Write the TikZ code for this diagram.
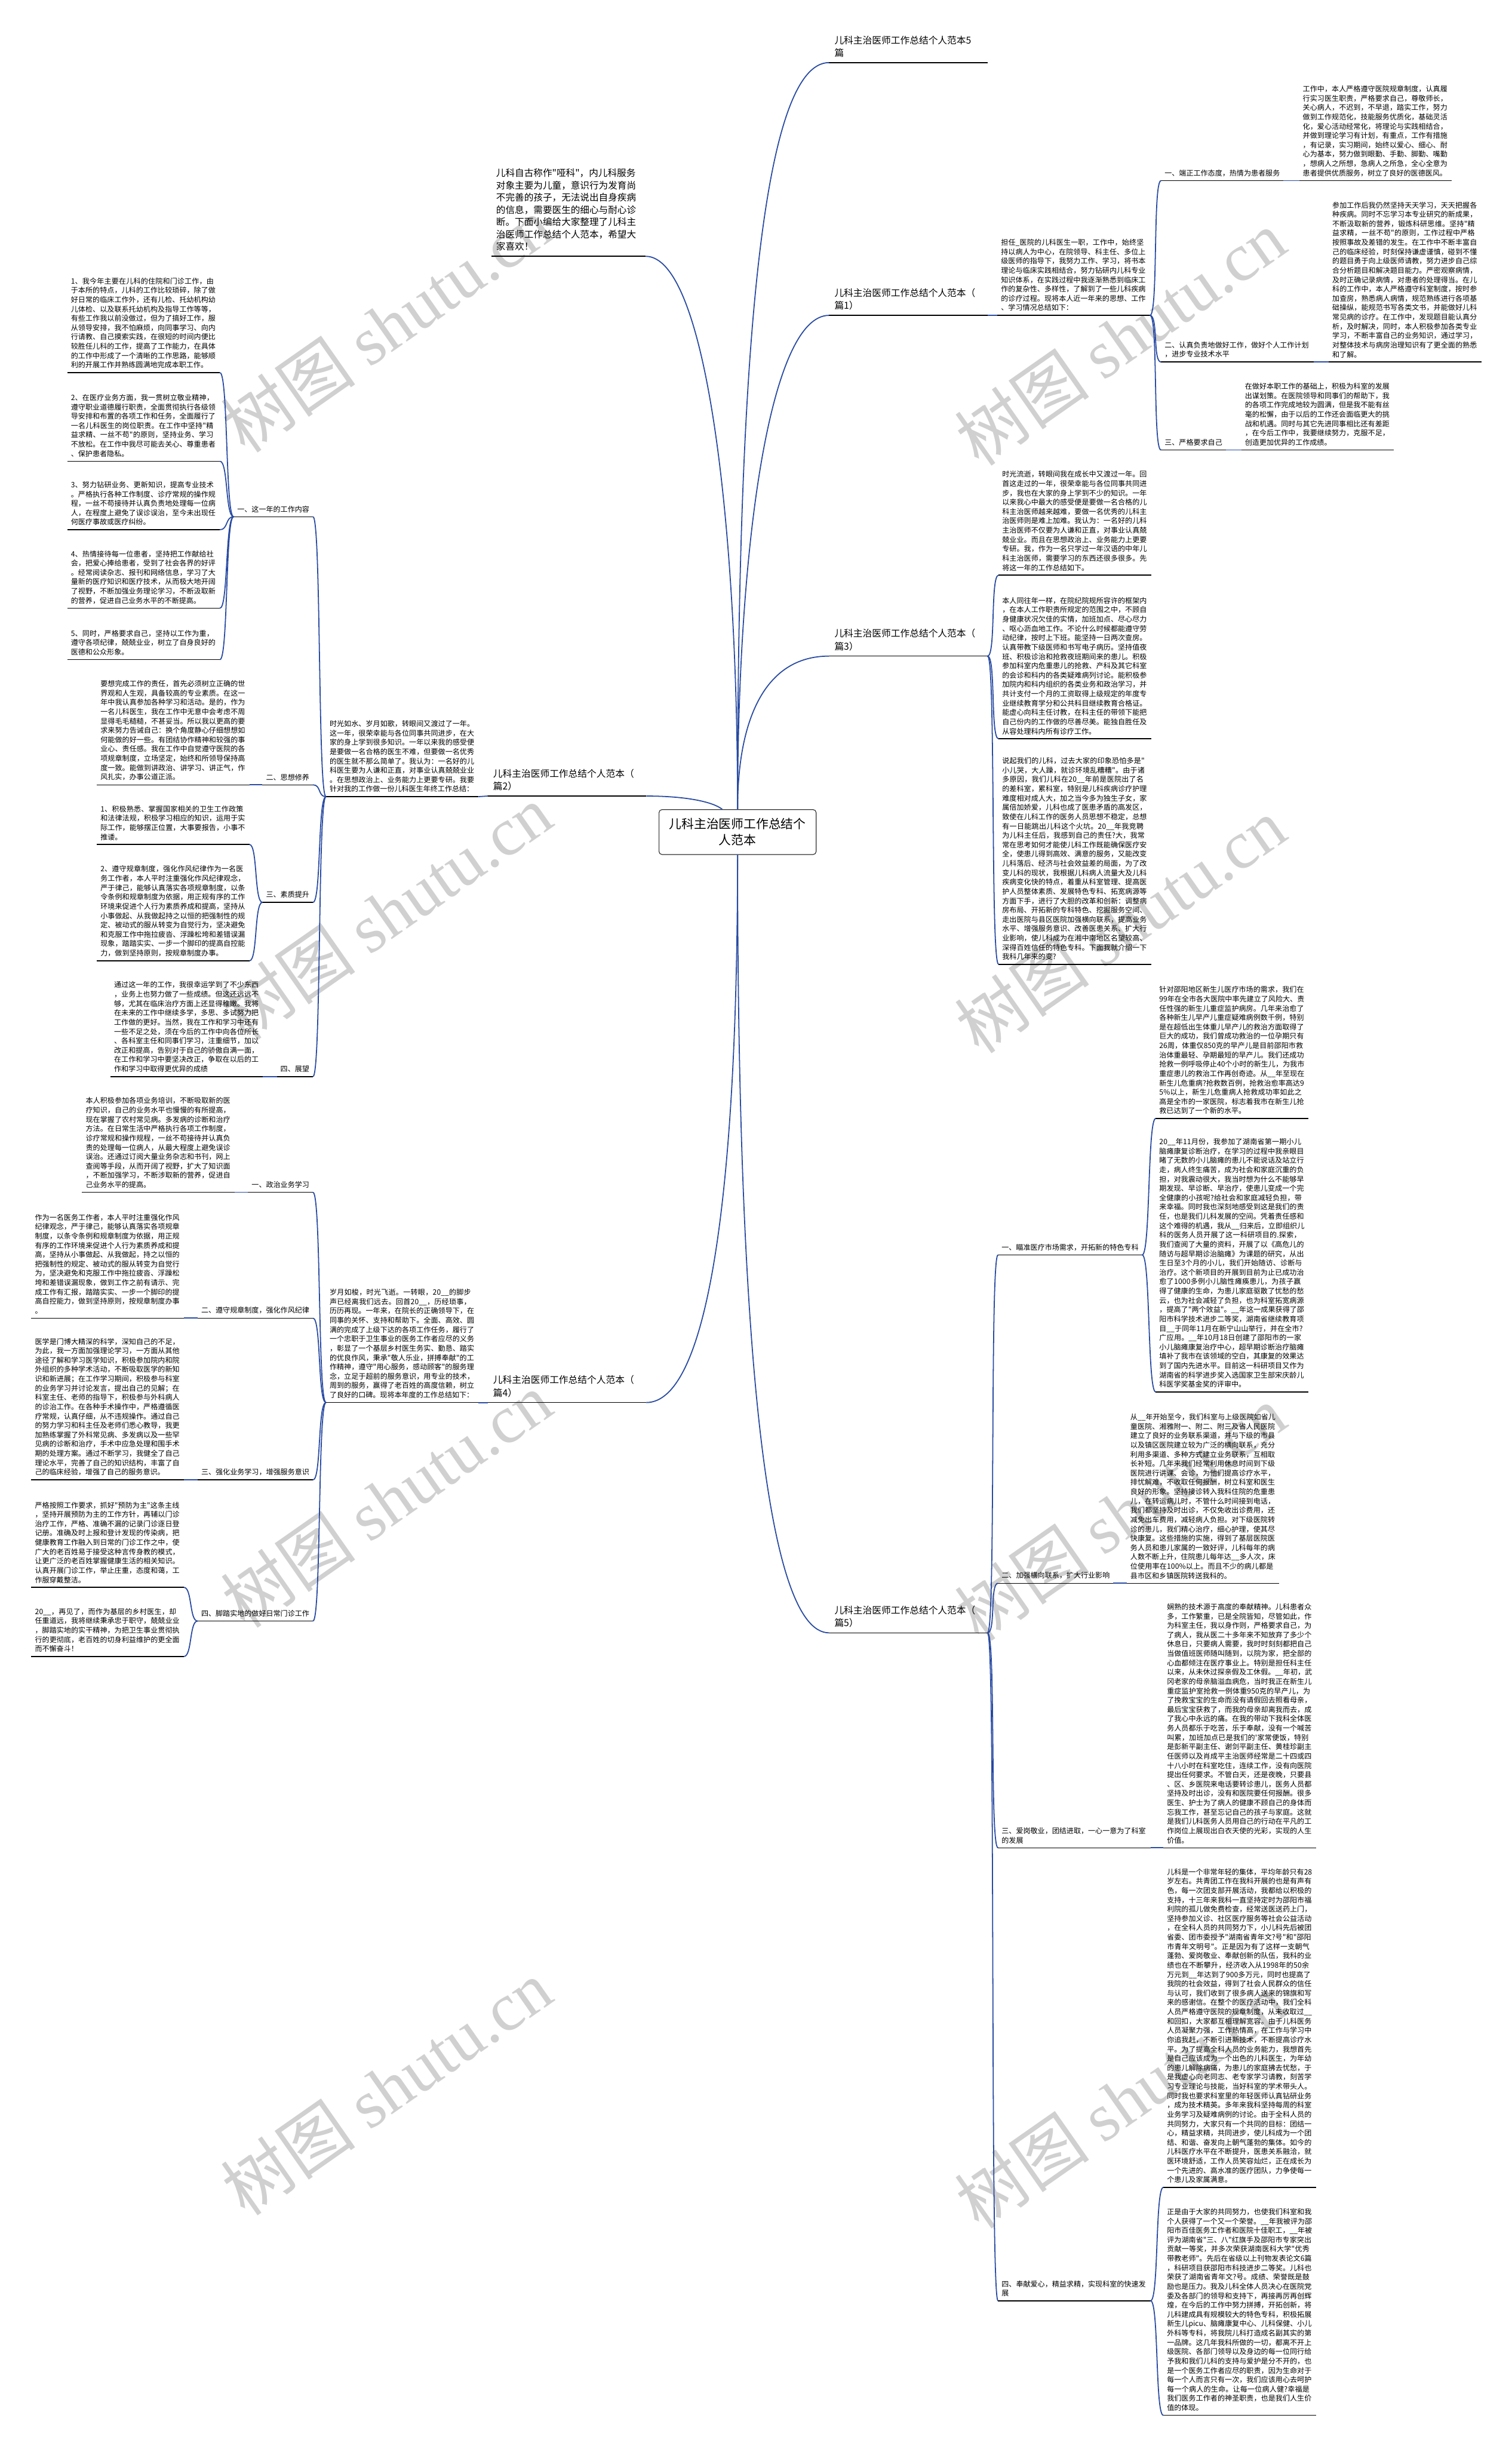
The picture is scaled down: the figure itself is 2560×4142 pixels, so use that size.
\documentclass[tikz,border=0pt]{standalone}
\usepackage{fontspec}
\setmainfont{Noto Sans CJK SC}
\newfontfamily\wmserif{Liberation Serif}
\font\fpara="Noto Sans CJK SC" at 12.2pt
\font\ftitle="Noto Sans CJK SC" at 15.9pt
\font\fintro="Noto Sans CJK SC" at 15.8pt
\font\froot="Noto Sans CJK SC" at 21pt
\XeTeXinterchartokenstate=1
\XeTeXinterchartoks 0 0 = {\hskip0pt plus 1pt\relax}
\XeTeXinterchartoks 0 1 = {\hskip0pt plus 1pt\relax}
\XeTeXinterchartoks 0 2 = {\hskip0pt plus 1pt\relax}
\XeTeXinterchartoks 0 3 = {\hskip0pt plus 1pt\relax}
\XeTeXinterchartoks 1 0 = {\hskip0pt plus 1pt\relax}
\XeTeXinterchartoks 1 1 = {\hskip0pt plus 1pt\relax}
\XeTeXinterchartoks 1 2 = {\hskip0pt plus 1pt\relax}
\XeTeXinterchartoks 1 3 = {\hskip0pt plus 1pt\relax}
\XeTeXinterchartoks 2 0 = {\hskip0pt plus 1pt\relax}
\XeTeXinterchartoks 2 1 = {\hskip0pt plus 1pt\relax}
\XeTeXinterchartoks 2 2 = {\hskip0pt plus 1pt\relax}
\XeTeXinterchartoks 2 3 = {\hskip0pt plus 1pt\relax}
\XeTeXinterchartoks 3 0 = {\hskip0pt plus 1pt\relax}
\XeTeXinterchartoks 3 1 = {\hskip0pt plus 1pt\relax}
\XeTeXinterchartoks 3 2 = {\hskip0pt plus 1pt\relax}
\XeTeXinterchartoks 3 3 = {\hskip0pt plus 1pt\relax}
\definecolor{linkblue}{RGB}{40,74,162}
\definecolor{wmgray}{RGB}{208,208,208}
\tikzstyle{rootbox} = [rectangle, rounded corners=5pt, draw=black!80, line width=1.2pt, minimum width=266pt, minimum height=76pt, align=center, font={\froot\baselineskip=27pt\relax}]
\tikzstyle{branch} = [anchor=south west, text width=250pt, align=left, inner xsep=9pt, inner ysep=9pt, font={\ftitle\baselineskip=21.5pt\relax}]
\tikzstyle{introtext} = [anchor=south west, text width=245pt, align=left, inner xsep=8pt, inner ysep=9pt, font={\fintro\baselineskip=20.7pt\relax}]
\tikzstyle{para} = [anchor=south west, text width=246pt, align=left, inner xsep=6pt, inner ysep=7pt, font={\fpara\baselineskip=15.8pt\relax}]
\tikzstyle{heading} = [anchor=south west, align=left, inner xsep=6pt, inner ysep=7pt, font={\fpara\baselineskip=15.8pt\relax}]
\tikzstyle{headingl} = [heading, anchor=south east]
\tikzstyle{uline} = [line width=1.5pt, black]
\tikzstyle{link} = [line width=1.8pt, linkblue]
\tikzstyle{wm} = [text=wmgray, rotate=35, inner sep=0pt, font=\fontsize{115}{115}\selectfont]

\begin{document}
\begin{tikzpicture}[x=1pt,y=-1pt]
\fill[white] (0,0) rectangle (2560,4142);
\useasboundingbox (0,0) rectangle (2560,4142);

% watermarks
\foreach \y in {0,995,1990,2985} {
  \node[wm] at (654,550+\y) {树图 {\wmserif shutu.cn}};
  \node[wm] at (1897,572+\y) {树图 {\wmserif shutu.cn}};
}

% root and branches
\node[rootbox] (root) at (1249,1409) {儿科主治医师工作总结个\\人范本};
\node[branch] (pall) at (1404,106) {儿科主治医师工作总结个人范本5\\篇};
\node[branch] (pian1) at (1404,534) {儿科主治医师工作总结个人范本（\\篇1）};
\node[branch] (pian3) at (1404,1111) {儿科主治医师工作总结个人范本（\\篇3）};
\node[branch] (pian5) at (1404,2765) {儿科主治医师工作总结个人范本（\\篇5）};
\node[branch] (pian2) at (826,1348) {儿科主治医师工作总结个人范本（\\篇2）};
\node[branch] (pian4) at (826,2375) {儿科主治医师工作总结个人范本（\\篇4）};
\node[introtext] (intro) at (832,434) {儿科自古称作"哑科"，内儿科服务\\对象主要为儿童，意识行为发育尚\\不完善的孩子，无法说出自身疾病\\的信息，需要医生的细心与耐心诊\\断。下面小编给大家整理了儿科主\\治医师工作总结个人范本，希望大\\家喜欢！};

% pian 1
\node[para] (p1) at (1689,534) {担任\_医院的儿科医生一职，工作中，始终坚持以病人为中心，在院领导、科主任、多位上级医师的指导下，我努力工作、学习，将书本理论与临床实践相结合，努力钻研内儿科专业知识体系，在实践过程中我逐渐熟悉到临床工作的复杂性、多样性，了解到了一些儿科疾病的诊疗过程。现将本人近一年来的思想、工作、学习情况总结如下：};
\node[heading] (p1l1) at (1966,306) {一、端正工作态度，热情为患者服务};
\node[para] (p1t1) at (2200,306) {工作中，本人严格遵守医院规章制度，认真履行实习医生职责，严格要求自己，尊敬师长，关心病人，不迟到，不早退，踏实工作，努力做到工作规范化，技能服务优质化，基础灵活化，爱心活动经常化，将理论与实践相结合，并做到理论学习有计划，有重点，工作有措施，有记录，实习期间，始终以爱心、细心、耐心为基本，努力做到眼勤、手勤、脚勤、嘴勤，想病人之所想，急病人之所急，全心全意为患者提供优质服务，树立了良好的医德医风。};
\node[heading, text width=246pt] (p1l2) at (1966,613) {二、认真负责地做好工作，做好个人工作计划\\，进步专业技术水平};
\node[para] (p1t2) at (2250,613) {参加工作后我仍然坚持天天学习，天天把握各种疾病。同时不忘学习本专业研究的新成果，不断汲取新的营养，锻炼科研思维。坚持"精益求精，一丝不苟"的原则，工作过程中严格按照事故及差错的发生。在工作中不断丰富自己的临床经验，时刻保持谦虚谨慎，碰到不懂的题目勇于向上级医师请教，努力进步自己综合分析题目和解决题目能力。严密观察病情，及时正确记录病情，对患者的处理得当。在儿科的工作中，本人严格遵守科室制度，按时参加查房，熟悉病人病情，规范熟练进行各项基础操纵，能规范书写各类文书，并能做好儿科常见病的诊疗。在工作中，发现题目能认真分析，及时解决，同时，本人积极参加各类专业学习，不断丰富自己的业务知识，通过学习，对整体技术与病房治理知识有了更全面的熟悉和了解。};
\node[heading] (p1l3) at (1966,762) {三、严格要求自己};
\node[para] (p1t3) at (2102,762) {在做好本职工作的基础上，积极为科室的发展出谋划策。在医院领导和同事们的帮助下，我的各项工作完成地较为圆满，但是我不能有丝毫的松懈，由于以后的工作还会面临更大的挑战和机遇。同时与其它先进同事相比还有差距，在今后工作中，我要继续努力，克服不足，创造更加优异的工作成绩。};

% pian 3
\node[para] (p3a) at (1691,974) {时光流逝，转眼间我在成长中又渡过一年。回首这走过的一年，很荣幸能与各位同事共同进步，我也在大家的身上学到不少的知识。一年以来我心中最大的感受便是要做一名合格的儿科主治医师越来越难，要做一名优秀的儿科主治医师则是难上加难。我认为：一名好的儿科主治医师不仅要为人谦和正直，对事业认真兢兢业业。而且在思想政治上、业务能力上更要专研。我，作为一名只学过一年汉语的中年儿科主治医师，需要学习的东西还很多很多。先将这一年的工作总结如下。};
\node[para] (p3b) at (1691,1251) {本人同往年一样，在院纪院规所容许的框架内，在本人工作职责所规定的范围之中，不顾自身健康状况欠佳的实情，加班加点、尽心尽力、呕心沥血地工作。不论什么时候都能遵守劳动纪律，按时上下班。能坚持一日两次查房。认真带教下级医师和书写电子病历。坚持值夜班、积极诊治和抢救夜班期间来的患儿。积极参加科室内危重患儿的抢救、产科及其它科室的会诊和科内的各类疑难病列讨论。能积极参加院内和科内组织的各类业务和政治学习，并共计支付一个月的工资取得上级规定的年度专业继续教育学分和公共科目继续教育合格证。能虚心向科主任讨教，在科主任的带领下能把自己份内的工作做的尽善尽美。能独自胜任及从容处理科内所有诊疗工作。};
\node[para] (p3c) at (1691,1633) {说起我们的儿科，过去大家的印象恐怕多是"小儿哭，大人躁，就诊环境乱糟糟"。由于诸多原因，我们儿科在20\_\_年前是医院出了名的差科室，累科室，特别是儿科疾病诊疗护理难度相对成人大，加之当今多为独生子女，家属倍加娇爱，儿科也成了医患矛盾的高发区，致使在儿科工作的医务人员思想不稳定，总想有一日能跳出儿科这个火坑。20\_\_年我竞聘为儿科主任后，我感到自己的责任?大，我常常在思考如何才能使儿科工作既能确保医疗安全，使患儿得到高效、满意的服务，又能改变儿科落后、经济与社会效益差的局面，为了改变儿科的现状，我根据儿科病人流量大及儿科疾病变化快的特点，着重从科室管理、提高医护人员整体素质、发展特色专科、拓宽病源等方面下手，进行了大胆的改革和创新：调整病房布局、开拓新的专科特色、挖掘服务空间、走出医院与县区医院加强横向联系，提高业务水平、增强服务意识、改善医患关系、扩大行业影响，使儿科成为在湘中南地区名望较高、深得百姓信任的特色专科。下面我就介绍一下我科几年来的变?};

% pian 2
\node[para] (p2) at (552,1349) {时光如水、岁月如歌，转眼间又渡过了一年。这一年，很荣幸能与各位同事共同进步，在大家的身上学到很多知识。一年以来我的感受便是要做一名合格的医生不难，但要做一名优秀的医生就不那么简单了。我认为：一名好的儿科医生要为人谦和正直，对事业认真兢兢业业。在思想政治上、业务能力上更要专研。我要针对我的工作做一份儿科医生年终工作总结：};
\node[headingl] (p2l1) at (530,875) {一、这一年的工作内容};
\node[headingl] (p2l2) at (530,1329) {二、思想修养};
\node[headingl] (p2l3) at (530,1528) {三、素质提升};
\node[headingl] (p2l4) at (530,1823) {四、展望};
\node[para] (p2a1) at (114,631) {1、我今年主要在儿科的住院和门诊工作，由于本所的特点，儿科的工作比较琐碎，除了做好日常的临床工作外，还有儿检、托幼机构幼儿体检、以及联系托幼机构及指导工作等等，有些工作我以前没做过，但为了搞好工作，服从领导安排，我不怕麻烦，向同事学习、向内行请教、自己摸索实践，在很短的时间内便比较胜任儿科的工作，提高了工作能力，在具体的工作中形成了一个清晰的工作思路，能够顺利的开展工作并熟练圆满地完成本职工作。};
\node[para] (p2a2) at (114,781) {2、在医疗业务方面，我一贯树立敬业精神，遵守职业道德履行职责，全面贯彻执行各级领导安排和布置的各项工作和任务，全面履行了一名儿科医生的岗位职责。在工作中坚持"精益求精、一丝不苟"的原则，坚持业务、学习不放松。在工作中我尽可能去关心、尊重患者、保护患者隐私。};
\node[para] (p2a3) at (114,897) {3、努力钻研业务、更新知识，提高专业技术。严格执行各种工作制度、诊疗常规的操作规程，一丝不苟接待并认真负责地处理每一位病人，在程度上避免了误诊误治，至今未出现任何医疗事故或医疗纠纷。};
\node[para] (p2a4) at (114,1030) {4、热情接待每一位患者，坚持把工作献给社会，把爱心捧给患者，受到了社会各界的好评。经常阅读杂志、报刊和网络信息，学习了大量新的医疗知识和医疗技术，从而极大地开阔了视野，不断加强业务理论学习，不断汲取新的营养，促进自己业务水平的不断提高。};
\node[para] (p2a5) at (114,1117) {5、同时，严格要求自己，坚持以工作为重，遵守各项纪律，兢兢业业，树立了自身良好的医德和公众形象。};
\node[para] (p2b) at (164,1329) {要想完成工作的责任，首先必须树立正确的世界观和人生观，具备较高的专业素质。在这一年中我认真参加各种学习和活动。是的，作为一名儿科医生，我在工作中无意中会考虑不周显得毛毛糙糙，不甚妥当。所以我以更高的要求来努力告诫自己：换个角度静心仔细想想如何能做的好一些。有团结协作精神和较强的事业心、责任感。我在工作中自觉遵守医院的各项规章制度，立场坚定，始终和所领导保持高度一致。能做到讲政治、讲学习、讲正气，作风扎实，办事公道正派。};
\node[para] (p2c1) at (164,1430) {1、积极熟悉、掌握国家相关的卫生工作政策和法律法规，积极学习相应的知识，运用于实际工作，能够摆正位置，大事要报告，小事不推诿。};
\node[para] (p2c2) at (164,1627) {2、遵守规章制度，强化作风纪律作为一名医务工作者，本人平时注重强化作风纪律观念，严于律己，能够认真落实各项规章制度，以条令条例和规章制度为依据，用正规有序的工作环境来促进个人行为素质养成和提高，坚持从小事做起、从我做起持之以恒的把强制性的规定、被动式的服从转变为自觉行为，坚决避免和克服工作中拖拉疲沓、浮躁松垮和差错误漏现象，踏踏实实、一步一个脚印的提高自控能力，做到坚持原则，按规章制度办事。};
\node[para] (p2d) at (187,1823) {通过这一年的工作，我很幸运学到了不少东西，业务上也努力做了一些成绩。但这还远远不够，尤其在临床治疗方面上还显得稚嫩。我将在未来的工作中继续多学，多思、多试努力把工作做的更好。当然，我在工作和学习中还有一些不足之处，须在今后的工作中向各位所长、各科室主任和同事们学习，注重细节，加以改正和提高，告别对于自己的骄傲自满一面，在工作和学习中要坚决改正，争取在以后的工作和学习中取得更优异的成绩};

% pian 4
\node[para] (p4) at (552,2375) {岁月如梭，时光飞逝。一转眼，20\_\_的脚步声已经离我们远去。回首20\_\_，历经琐事，历历再现。一年来，在院长的正确领导下，在同事的关怀、支持和帮助下。全面、高效、圆满的完成了上级下达的各项工作任务，履行了一个忠职于卫生事业的医务工作者应尽的义务，彰显了一个基层乡村医生务实、勤恳、踏实的优良作风，秉承"敬人乐业，拼搏奉献"的工作精神，遵守"用心服务，感动顾客"的服务理念，立足于超前的服务意识，用专业的技术，周到的服务，赢得了老百姓的高度信赖，树立了良好的口碑。现将本年度的工作总结如下：};
\node[headingl] (p4l1) at (530,2019) {一、政治业务学习};
\node[headingl] (p4l2) at (530,2232) {二、遵守规章制度，强化作风纪律};
\node[headingl] (p4l3) at (530,2506) {三、强化业务学习，增强服务意识};
\node[headingl] (p4l4) at (530,2745) {四、脚踏实地的做好日常门诊工作};
\node[para] (p4a) at (139,2019) {本人积极参加各项业务培训，不断吸取新的医疗知识，自己的业务水平也慢慢的有所提高，现在掌握了农村常见病。多发病的诊断和治疗方法。在日常生活中严格执行各项工作制度，诊疗常规和操作规程，一丝不苟接待并认真负责的处理每一位病人，从最大程度上避免误诊误治。还通过订阅大量业务杂志和书刊，网上查阅等手段，从而开阔了视野，扩大了知识面，不断加强学习，不断涉取新的营养，促进自己业务水平的提高。};
\node[para] (p4b) at (53,2232) {作为一名医务工作者，本人平时注重强化作风纪律观念，严于律己，能够认真落实各项规章制度，以条令条例和规章制度为依据，用正规有序的工作环境来促进个人行为素质养成和提高，坚持从小事做起、从我做起，持之以恒的把强制性的规定、被动式的服从转变为自觉行为，坚决避免和克服工作中拖拉疲沓、浮躁松垮和差错误漏现象，做到工作之前有请示、完成工作有汇报，踏踏实实、一步一个脚印的提高自控能力，做到坚持原则，按规章制度办事。};
\node[para] (p4c) at (53,2506) {医学是门博大精深的科学，深知自己的不足，为此，我一方面加强理论学习，一方面从其他途径了解和学习医学知识，积极参加院内和院外组织的多种学术活动，不断吸取医学的新知识和新进展；在工作学习期间，积极参与科室的业务学习并讨论发言，提出自己的见解；在科室主任、老师的指导下，积极参与外科病人的诊治工作。在各种手术操作中，严格遵循医疗常规，认真仔细，从不违规操作。通过自己的努力学习和科主任及老师们悉心教导，我更加熟练掌握了外科常见病、多发病以及一些罕见病的诊断和治疗，手术中应急处理和围手术期的处理方案。通过不断学习，我健全了自己理论水平，完善了自己的知识结构，丰富了自己的临床经验，增强了自己的服务意识。};
\node[para] (p4d1) at (53,2688) {严格按照工作要求，抓好"预防为主"这条主线，坚持开展预防为主的工作方针，再辅以门诊治疗工作，严格、准确不漏的记录门诊逐日登记册。准确及时上报和登计发现的传染病，把健康教育工作融入到日常的门诊工作之中，使广大的老百姓易于接受这种言传身教的模式，让更广泛的老百姓掌握健康生活的相关知识。认真开展门诊工作，举止庄重，态度和蔼，工作服穿戴整洁。};
\node[para] (p4d2) at (53,2805) {20\_\_，再见了，而作为基层的乡村医生，却任重道远，我将继续秉承忠于职守，兢兢业业，脚踏实地的实干精神，为把卫生事业贯彻执行的更彻底，老百姓的切身利益维护的更全面而不懈奋斗！};

% pian 5
\node[heading] (p5l1) at (1690,2125) {一、瞄准医疗市场需求，开拓新的特色专科};
\node[heading] (p5l2) at (1690,2681) {二、加强横向联系，扩大行业影响};
\node[heading, text width=246pt] (p5l3) at (1690,3129) {三、爱岗敬业，团结进取，一心一意为了科室\\的发展};
\node[heading, text width=246pt] (p5l4) at (1690,3896) {四、奉献爱心，精益求精，实现科室的快速发\\展};
\node[para] (p5a1) at (1957,1894) {针对邵阳地区新生儿医疗市场的需求，我们在99年在全市各大医院中率先建立了风险大、责任性强的新生儿重症监护病房。几年来治愈了各种新生儿早产儿重症疑难病例数千例，特别是在超低出生体重儿早产儿的救治方面取得了巨大的成功，我们曾成功救治的一位孕期只有26周，体重仅850克的早产儿是目前邵阳市救治体重最轻、孕期最短的早产儿。我们还成功抢救一例呼吸停止40个小时的新生儿，为我市重症患儿的救治工作再创奇迹。从\_\_年至现在新生儿危重病?抢救数百例，抢救治愈率高达95\%以上，新生儿危重病人抢救成功率如此之高是全市的一家医院，标志着我市在新生儿抢救已达到了一个新的水平。};
\node[para] (p5a2) at (1957,2357) {20\_\_年11月份，我参加了湖南省第一期小儿脑瘫康复诊断治疗，在学习的过程中我亲眼目睹了无数的小儿脑瘫的患儿不能说话及站立行走，病人终生痛苦，成为社会和家庭沉重的负担，对我震动很大，我当时想为什么不能够早期发现、早诊断、早治疗，使患儿变成一个完全健康的小孩呢?给社会和家庭减轻负担，带来幸福。同时我也深刻地感受到这是我们的责任，也是我们儿科发展的空间。凭着责任感和这个难得的机遇，我从\_\_归来后，立即组织儿科的医务人员开展了这一科研项目的.探索，我们查阅了大量的资料，开展了以《高危儿的随访与超早期诊治脑瘫》为课题的研究，从出生日至3个月的小儿，我们开始随访、诊断与治疗。这个新项目的开展到目前为止已成功治愈了1000多例小儿脑性瘫痪患儿，为孩子赢得了健康的生命，为患儿家庭驱散了忧愁的愁云，也为社会减轻了负担，也为科室拓宽病源，提高了"两个效益"。\_\_年这一成果获得了邵阳市科学技术进步二等奖，湖南省继续教育项目\_\_于同年11月在新宁山山举行，并在全市?广应用。\_\_年10月18日创建了邵阳市的一家小儿脑瘫康复治疗中心，超早期诊断治疗脑瘫填补了我市在该领域的空白，其康复的效果达到了国内先进水平。目前这一科研项目又作为湖南省的科学进步奖入选国家卫生部宋庆龄儿科医学奖基金奖的评审中。};
\node[para] (p5b) at (1908,2681) {从\_\_年开始至今，我们科室与上级医院如省儿童医院、湘雅附一、附二、附三及省人民医院建立了良好的业务联系渠道，并与下级的市县以及镇区医院建立较为广泛的横向联系，充分利用多渠道、多种方式建立业务联系，互相取长补短。几年来我们经常利用休息时间到下级医院进行讲课、会诊，为他们提高诊疗水平，排忧解难，不收取任何报酬，树立科室和医生良好的形象。坚持接诊转入我科住院的危重患儿，在转运病儿时，不管什么时间接到电话，我们都坚持及时出诊，不仅免收出诊费用，还减免出车费用，减轻病人负担。对下级医院转诊的患儿，我们精心治疗，细心护理，使其尽快康复。这些措施的实施，得到了基层医院医务人员和患儿家属的一致好评，儿科每年的病人数不断上升，住院患儿每年达\_\_多人次，床位使用率在100\%以上。而且不少的病儿都是县市区和乡镇医院转送我科的。};
\node[para] (p5c) at (1970,3129) {娴熟的技术源于高度的奉献精神。儿科患者众多，工作繁重，已是全院皆知，尽管如此，作为科室主任，我以身作则，严格要求自己，为了病人，我从医二十多年来不知放弃了多少个休息日，只要病人需要，我时时刻刻都把自己当做值班医师随叫随到，以院为家，把全部的心血都倾注在医疗事业上。特别是担任科主任以来，从未休过探亲假及工休假。\_\_年初，武冈老家的母亲脑溢血病危，当时我正在新生儿重症监护室抢救一例体重950克的早产儿，为了挽救宝宝的生命而没有请假回去照看母亲，最后宝宝获救了，而我的母亲却离我而去，成了我心中永远的痛。在我的带动下我科全体医务人员都乐于吃苦，乐于奉献，没有一个喊苦叫累，加班加点已是我们的'家常便饭，特别是彭新平副主任、谢剑平副主任、黄桂珍副主任医师以及肖成平主治医师经常是二十四或四十八小时在科室吃住，连续工作，没有向医院提出任何要求。不管白天，还是夜晚，只要县、区、乡医院来电话要转诊患儿，医务人员都坚持及时出诊，没有和医院要任何报酬。很多医生、护士为了病人的健康不顾自己的身体而忘我工作，甚至忘记自己的孩子与家庭。这就是我们儿科医务人员用自己的行动在平凡的工作岗位上展现出白衣天使的光彩，实现的人生价值。};
\node[para] (p5d1) at (1970,3704) {儿科是一个非常年轻的集体，平均年龄只有28岁左右。共青团工作在我科开展的也是有声有色，每一次团支部开展活动，我都给以积极的支持，十三年来我科一直坚持定时为邵阳市福利院的孤儿做免费检查，经常送医送药上门，坚持参加义诊、社区医疗服务等社会公益活动，在全科人员的共同努力下，小儿科先后被团省委、团市委授予"湖南省青年文?号"和"邵阳市青年文明号"。正是因为有了这样一支朝气蓬勃、爱岗敬业、奉献创新的队伍，我科的业绩也在不断攀升，经济收入从1998年的50余万元到\_\_年达到了900多万元，同时也提高了我院的社会效益，得到了社会人民群众的信任与认可，我们收到了很多病人送来的锦旗和写来的感谢信。在整个的医疗活动中，我们全科人员严格遵守医院的规章制度，从未收取过\_\_和回扣，大家都互相理解宽容。由于儿科医务人员凝聚力强，工作热情高，在工作与学习中你追我赶，不断引进新技术，不断提高诊疗水平。为了提高全科人员的业务能力，我想首先是自己应该成为一个出色的儿科医生，为年幼的患儿解除病痛，为患儿的家庭拂去忧愁，于是我虚心向老同志、老专家学习请教，刻苦学习专业理论与技能，当好科室的学术带头人。同时我也要求科室里的年轻医师认真钻研业务，成为技术精英。多年来我科坚持每周的科室业务学习及疑难病例的讨论。由于全科人员的共同努力，大家只有一个共同的目标：团结一心，精益求精，共同进步，使儿科成为一个团结、和谐、奋发向上朝气蓬勃的集体。如今的儿科医疗水平在不断提升，医患关系融洽，就医环境舒适，工作人员笑容灿烂，正在成长为一个先进的、高水准的医疗团队，力争使每一个患儿及家属满意。};
\node[para] (p5d2) at (1970,4090) {正是由于大家的共同努力，也使我们科室和我个人获得了一个又一个荣誉。\_\_年我被评为邵阳市百佳医务工作者和医院十佳职工，\_\_年被评为湖南省"三、八"红旗手及邵阳市专家突出贡献一等奖，并多次荣获湖南医科大学"优秀带教老师"。先后在省级以上刊物发表论文6篇，科研项目获邵阳市科技进步二等奖。儿科也荣获了湖南省青年文?号。成绩、荣誉既是鼓励也是压力。我及儿科全体人员决心在医院党委及各部门的领导和支持下，再接再厉再创辉煌，在今后的工作中努力拼搏，开拓创新，将儿科建成具有规模较大的特色专科，积极拓展新生儿picu、脑瘫康复中心、儿科保健、小儿外科等专科，将我院儿科打造成名副其实的第一品牌。这几年我科所做的一切，都离不开上级医院、各部门领导以及身边的每一位同行给予我和我们儿科的支持与爱护是分不开的，也是一个医务工作者应尽的职责，因为生命对于每一个人而言只有一次，我们应该用心去呵护每一个病人的生命。让每一位病人健?幸福是我们医务工作者的神圣职责，也是我们人生价值的体现。};

% underlines
\foreach \n in {pall,pian1,pian2,pian3,pian4,pian5,intro,p1,p1l1,p1t1,p1l2,p1t2,p1l3,p1t3,p3a,p3b,p3c,p2,p2l1,p2l2,p2l3,p2l4,p2a1,p2a2,p2a3,p2a4,p2a5,p2b,p2c1,p2c2,p2d,p4,p4l1,p4l2,p4l3,p4l4,p4a,p4b,p4c,p4d1,p4d2,p5l1,p5l2,p5l3,p5l4,p5a1,p5a2,p5b,p5c,p5d1,p5d2}
  \draw[uline] (\n.south west) -- (\n.south east);

% links from the root
\draw[link] (root.north) .. controls +(0,-800) and +(-110,0) .. (pall.south west);
\draw[link] (root.north) .. controls +(0,-450) and +(-100,0) .. (pian1.south west);
\draw[link] (root.north) .. controls +(0,-500) and +(100,0) .. (intro.south east);
\draw[link] (root.north) .. controls +(0,-150) and +(-110,0) .. (pian3.south west);
\draw[link] ([xshift=-26pt]root.north) .. controls +(-15,-12) and +(70,0) .. (pian2.south east);
\draw[link] (root.south) .. controls +(0,600) and +(100,0) .. (pian4.south east);
\draw[link] (root.south) .. controls +(0,800) and +(-110,0) .. (pian5.south west);

% straight joins
\draw[link] (pian1.south east) -- (p1.south west);
\draw[link] (p2.south east) -- (pian2.south west);
\draw[link] (p4.south east) -- (pian4.south west);
\draw[link] (p1l1.south east) -- (p1t1.south west);
\draw[link] (p1l2.south east) -- (p1t2.south west);
\draw[link] (p1l3.south east) -- (p1t3.south west);
\draw[link] (p2l2.south west) -- (p2b.south east);
\draw[link] (p2l4.south west) -- (p2d.south east);
\draw[link] (p4l1.south west) -- (p4a.south east);
\draw[link] (p4l2.south west) -- (p4b.south east);
\draw[link] (p4l3.south west) -- (p4c.south east);
\draw[link] (p5l2.south east) -- (p5b.south west);
\draw[link] (p5l3.south east) -- (p5c.south west);

% brackets
\foreach \c in {p1l1,p1l2,p1l3}
  \draw[link] (p1.south east) .. controls +(14,0) and +(-14,0) .. (\c.south west);
\foreach \c in {p3a,p3b,p3c}
  \draw[link] (pian3.south east) .. controls +(14,0) and +(-14,0) .. (\c.south west);
\foreach \c in {p5l1,p5l2,p5l3,p5l4}
  \draw[link] (pian5.south east) .. controls +(14,0) and +(-14,0) .. (\c.south west);
\foreach \c in {p5a1,p5a2}
  \draw[link] (p5l1.south east) .. controls +(14,0) and +(-14,0) .. (\c.south west);
\foreach \c in {p5d1,p5d2}
  \draw[link] (p5l4.south east) .. controls +(14,0) and +(-14,0) .. (\c.south west);
\foreach \c in {p2l1,p2l2,p2l3,p2l4}
  \draw[link] (p2.south west) .. controls +(-14,0) and +(14,0) .. (\c.south east);
\foreach \c in {p2a1,p2a2,p2a3,p2a4,p2a5}
  \draw[link] (p2l1.south west) .. controls +(-14,0) and +(14,0) .. (\c.south east);
\foreach \c in {p2c1,p2c2}
  \draw[link] (p2l3.south west) .. controls +(-14,0) and +(14,0) .. (\c.south east);
\foreach \c in {p4l1,p4l2,p4l3,p4l4}
  \draw[link] (p4.south west) .. controls +(-14,0) and +(14,0) .. (\c.south east);
\foreach \c in {p4d1,p4d2}
  \draw[link] (p4l4.south west) .. controls +(-14,0) and +(14,0) .. (\c.south east);
\end{tikzpicture}
\end{document}
